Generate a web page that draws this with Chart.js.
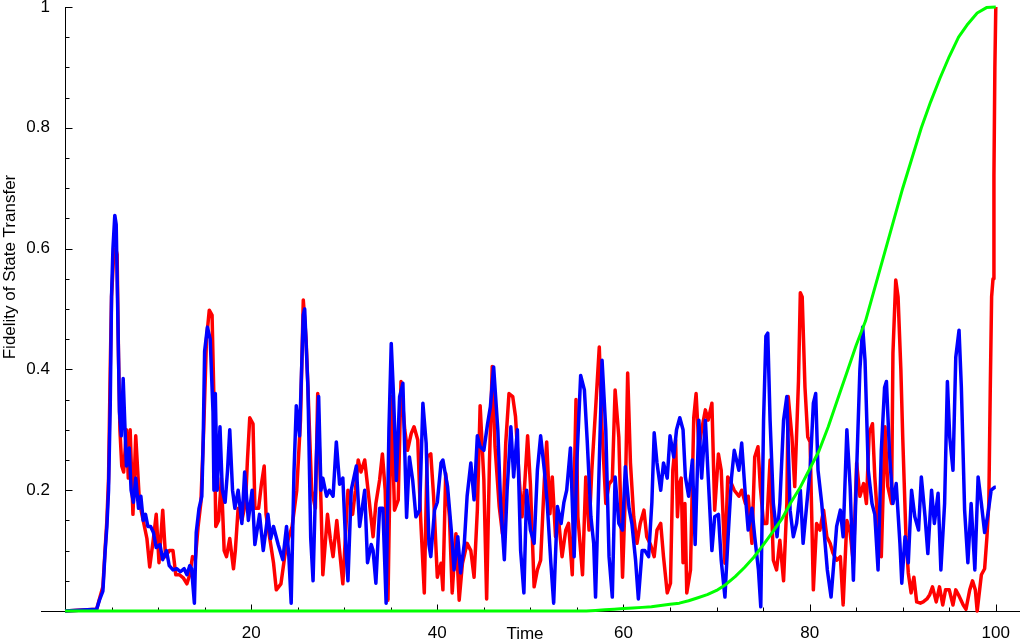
<!DOCTYPE html>
<html><head><meta charset="utf-8">
<script src="https://cdn.jsdelivr.net/npm/chart.js@4.4.1/dist/chart.umd.min.js"></script>
<style>html,body{margin:0;padding:0;background:#fff;} #wrap{width:1020px;height:640px;position:relative;}</style>
</head><body><div id="wrap"><canvas id="c" width="1020" height="640"></canvas></div>
<script>
const xTickLabels = [20, 40, 60, 80, 100];
const yTickLabels = ['0.2', '0.4', '0.6', '0.8', '1'];
const xTitle = 'Time';
const yTitle = 'Fidelity of State Transfer';

const redT = [0,3.4,3.7,4.07,4.3,4.5,4.68,4.86,5.0,5.2,5.45,5.6,5.75,5.9,6.1,6.3,6.6,6.8,7.0,7.3,7.6,8.0,8.4,8.8,9.1,9.5,9.8,10.1,10.5,10.8,11.2,11.6,11.9,12.3,12.7,13.1,13.4,13.7,14.0,14.3,14.6,14.9,15.2,15.5,15.8,16.0,16.2,16.5,16.8,17.1,17.35,17.7,18.1,18.3,18.6,19.0,19.4,19.6,19.85,20.2,20.4,20.8,21.1,21.4,21.6,22.1,22.4,22.7,23.2,23.6,24.0,24.4,24.9,25.3,25.6,25.9,26.1,26.5,26.9,27.15,27.5,27.7,28.2,28.5,28.8,29.2,29.5,29.85,30.4,30.9,31.2,31.5,31.8,32.2,32.7,33.1,33.4,33.8,34.1,34.4,34.7,35.05,35.4,35.8,36.1,36.5,36.8,37.2,37.5,37.9,38.2,38.6,38.9,39.3,39.6,40.0,40.4,40.6,40.9,41.3,41.6,42.0,42.35,42.7,43.2,43.6,43.95,44.3,44.6,45.0,45.3,45.6,45.9,46.2,46.65,47.0,47.35,47.7,48.1,48.4,48.8,49.1,49.35,49.7,50.0,50.4,50.75,51.1,51.5,51.75,52.1,52.35,52.7,53.0,53.4,53.8,54.1,54.5,54.9,55.1,55.6,55.95,56.3,56.6,57.0,57.4,57.7,58.1,58.45,58.8,59.1,59.5,59.9,60.2,60.45,60.75,61.1,61.45,61.8,62.2,62.5,62.9,63.3,63.6,64.0,64.3,64.7,65.05,65.3,65.6,65.8,66.0,66.2,66.4,66.6,66.8,67.2,67.55,67.8,68.1,68.4,68.8,69.1,69.5,69.8,70.2,70.5,70.9,71.2,71.6,71.9,72.4,72.7,73.1,73.4,73.8,74.1,74.45,74.7,75.05,75.4,75.75,76.1,76.45,76.8,77.2,77.55,77.7,78.1,78.4,78.8,79.0,79.2,79.5,79.8,80.05,80.4,80.75,81.1,81.5,81.85,82.2,82.5,82.9,83.3,83.6,84.0,84.35,84.7,85.05,85.4,85.8,86.1,86.4,86.75,87.0,87.35,87.7,88.1,88.4,88.8,88.95,89.25,89.5,89.8,90.0,90.35,90.6,90.9,91.2,91.5,91.9,92.2,92.6,92.9,93.2,93.6,93.95,94.3,94.6,95.0,95.4,95.7,96.05,96.5,96.8,97.2,97.5,97.8,98.0,98.45,98.8,99.05,99.25,99.4,99.55,99.7,99.8,99.9,100];
const redV = [0,0.003,0.02,0.04,0.1,0.15,0.22,0.4,0.52,0.58,0.6,0.59,0.42,0.3,0.24,0.23,0.3,0.22,0.3,0.16,0.29,0.18,0.15,0.12,0.073,0.12,0.16,0.08,0.167,0.09,0.1,0.1,0.06,0.06,0.055,0.045,0.06,0.09,0.085,0.14,0.18,0.3,0.45,0.498,0.49,0.35,0.14,0.15,0.22,0.1,0.09,0.12,0.07,0.1,0.17,0.15,0.18,0.25,0.32,0.31,0.17,0.17,0.21,0.24,0.16,0.11,0.08,0.035,0.045,0.09,0.12,0.14,0.2,0.316,0.515,0.45,0.37,0.2,0.17,0.36,0.18,0.06,0.16,0.12,0.09,0.15,0.1,0.045,0.2,0.16,0.2,0.25,0.23,0.25,0.18,0.123,0.178,0.217,0.26,0.2,0.018,0.355,0.167,0.184,0.38,0.3,0.266,0.294,0.305,0.283,0.156,0.03,0.255,0.26,0.19,0.056,0.079,0.035,0.228,0.156,0.03,0.128,0.018,0.079,0.112,0.1,0.056,0.167,0.34,0.217,0.02,0.245,0.405,0.272,0.173,0.128,0.278,0.36,0.355,0.322,0.217,0.156,0.2,0.29,0.21,0.04,0.068,0.084,0.217,0.28,0.161,0.222,0.123,0.156,0.09,0.134,0.145,0.06,0.35,0.156,0.06,0.222,0.134,0.233,0.333,0.437,0.3,0.178,0.21,0.217,0.366,0.288,0.056,0.195,0.394,0.245,0.156,0.112,0.145,0.167,0.123,0.11,0.09,0.134,0.145,0.09,0.03,0.046,0.233,0.283,0.156,0.21,0.22,0.08,0.178,0.03,0.068,0.32,0.36,0.272,0.3,0.333,0.316,0.344,0.167,0.26,0.233,0.079,0.222,0.211,0.2,0.19,0.2,0.178,0.19,0.112,0.255,0.272,0.206,0.145,0.145,0.25,0.084,0.068,0.117,0.05,0.178,0.355,0.288,0.206,0.38,0.527,0.52,0.37,0.288,0.28,0.035,0.145,0.134,0.167,0.123,0.112,0.096,0.084,0.09,0.01,0.15,0.13,0.079,0.245,0.19,0.211,0.178,0.295,0.31,0.222,0.14,0.09,0.305,0.206,0.178,0.427,0.548,0.52,0.4,0.288,0.123,0.063,0.03,0.056,0.015,0.013,0.015,0.02,0.027,0.04,0.015,0.04,0.01,0.035,0.035,0.01,0.035,0.025,0.01,0.003,0.035,0.05,0.035,0.0,0.06,0.07,0.123,0.178,0.36,0.52,0.55,0.72,0.9,1.0];

const blueT = [0,3.4,3.7,4.07,4.3,4.5,4.68,4.86,5.0,5.15,5.35,5.5,5.65,5.85,6.05,6.25,6.45,6.6,6.9,7.1,7.35,7.6,7.9,8.15,8.4,8.65,8.9,9.2,9.5,9.8,10.2,10.5,10.9,11.2,11.6,12.0,12.4,12.8,13.1,13.4,13.6,13.9,14.1,14.4,14.7,14.85,15.0,15.3,15.6,15.9,16.0,16.15,16.35,16.65,16.9,17.2,17.45,17.7,18.0,18.25,18.6,19.0,19.3,19.7,20.1,20.4,20.9,21.3,21.8,22.1,22.4,22.9,23.4,23.8,24.05,24.3,24.6,24.85,25.2,25.6,25.75,26.1,26.4,26.65,27.0,27.25,27.5,27.7,28.1,28.4,28.8,29.15,29.5,29.85,30.2,30.4,30.75,31.3,31.65,32.2,32.5,32.9,33.1,33.4,33.8,34.15,34.5,34.8,35.05,35.3,35.6,35.95,36.3,36.7,37.0,37.35,37.7,38.1,38.45,38.8,39.1,39.3,39.7,40.0,40.4,40.6,41.1,41.5,41.8,42.2,42.5,42.9,43.2,43.6,43.95,44.3,44.6,45.0,45.4,45.7,46.05,46.5,46.8,47.2,47.5,47.9,48.2,48.6,48.95,49.3,49.6,50.0,50.4,50.75,51.1,51.5,51.8,52.2,52.5,52.9,53.3,53.6,53.9,54.3,54.7,55.0,55.4,55.8,56.1,56.5,56.8,57.0,57.4,57.7,58.1,58.45,58.8,59.1,59.5,59.9,60.2,60.6,60.9,61.3,61.6,62.0,62.3,62.7,63.05,63.3,63.6,64.0,64.3,64.7,65.0,65.4,65.7,66.05,66.4,66.65,67.0,67.4,67.7,68.1,68.4,68.8,69.1,69.5,69.8,70.2,70.5,70.9,71.2,71.6,71.9,72.4,72.7,73.1,73.4,73.8,74.1,74.5,74.75,75.05,75.3,75.5,75.75,76.1,76.5,76.8,77.2,77.55,77.9,78.25,78.6,79.0,79.3,79.7,80.05,80.4,80.65,80.9,81.3,81.6,81.9,82.3,82.6,82.9,83.3,83.6,84.0,84.35,84.7,85.05,85.4,85.7,85.95,86.3,86.7,87.0,87.35,87.7,88.05,88.25,88.6,88.95,89.3,89.7,89.9,90.25,90.6,90.95,91.3,91.7,92.0,92.4,92.7,93.1,93.4,93.8,94.1,94.5,94.8,95.05,95.4,95.7,96.05,96.3,96.65,97.0,97.35,97.75,98.1,98.45,98.8,99.15,99.5,99.9,100];
const blueV = [0,0.003,0.018,0.033,0.096,0.14,0.2,0.34,0.52,0.6,0.655,0.64,0.51,0.33,0.29,0.385,0.3,0.24,0.27,0.2,0.18,0.22,0.17,0.19,0.15,0.16,0.14,0.14,0.13,0.105,0.11,0.085,0.1,0.075,0.068,0.07,0.065,0.07,0.06,0.075,0.07,0.013,0.13,0.17,0.19,0.285,0.43,0.47,0.45,0.33,0.2,0.36,0.2,0.305,0.2,0.18,0.23,0.3,0.2,0.17,0.2,0.145,0.23,0.15,0.2,0.11,0.16,0.1,0.16,0.12,0.14,0.11,0.085,0.14,0.09,0.013,0.23,0.34,0.29,0.49,0.5,0.37,0.12,0.05,0.25,0.355,0.2,0.22,0.19,0.2,0.19,0.28,0.21,0.22,0.096,0.05,0.2,0.24,0.14,0.2,0.08,0.11,0.1,0.046,0.17,0.17,0.013,0.3,0.443,0.355,0.216,0.355,0.377,0.155,0.255,0.217,0.156,0.167,0.344,0.278,0.11,0.09,0.167,0.18,0.245,0.25,0.206,0.134,0.068,0.123,0.063,0.112,0.19,0.245,0.184,0.29,0.272,0.266,0.31,0.338,0.404,0.3,0.178,0.085,0.2,0.305,0.222,0.3,0.1,0.03,0.2,0.134,0.112,0.233,0.29,0.233,0.18,0.079,0.013,0.173,0.145,0.18,0.2,0.27,0.09,0.25,0.39,0.366,0.283,0.156,0.112,0.023,0.245,0.415,0.3,0.09,0.023,0.222,0.145,0.134,0.239,0.17,0.145,0.084,0.02,0.1,0.1,0.09,0.18,0.295,0.245,0.2,0.245,0.22,0.29,0.255,0.3,0.32,0.3,0.222,0.19,0.25,0.11,0.316,0.22,0.316,0.222,0.1,0.156,0.16,0.084,0.023,0.112,0.22,0.266,0.233,0.278,0.19,0.134,0.17,0.123,0.068,0.007,0.316,0.455,0.46,0.316,0.178,0.123,0.178,0.316,0.355,0.167,0.123,0.145,0.2,0.112,0.178,0.233,0.344,0.36,0.233,0.178,0.123,0.068,0.023,0.08,0.14,0.167,0.123,0.3,0.206,0.051,0.233,0.4,0.47,0.415,0.233,0.178,0.16,0.068,0.266,0.37,0.38,0.255,0.178,0.211,0.112,0.046,0.123,0.08,0.2,0.156,0.134,0.222,0.156,0.095,0.2,0.145,0.195,0.068,0.178,0.38,0.288,0.233,0.42,0.465,0.37,0.167,0.08,0.178,0.068,0.222,0.178,0.13,0.16,0.2,0.205,0.205];

const greenT = [0,56,57,58,59,60,61,62,63,64,65,66,67,68,69,70,71,72,73,74,75,76,77,78,79,80,81,82,83,84,85,86,87,88,89,90,91,92,93,94,95,96,97,98,99,100];
const greenV = [0,0,0.001,0.002,0.003,0.004,0.005,0.006,0.007,0.009,0.011,0.013,0.017,0.022,0.027,0.034,0.044,0.057,0.072,0.089,0.109,0.13,0.152,0.18,0.205,0.235,0.265,0.305,0.35,0.395,0.44,0.48,0.535,0.59,0.645,0.7,0.75,0.8,0.843,0.882,0.918,0.95,0.972,0.99,0.999,1.0];

const pts = (t, v) => t.map((x, i) => ({x: x, y: v[i]}));
const FONT = "'Liberation Sans', Arial, sans-serif";
const X_LEFT_EXT = -2.6;

const axesPlugin = {
  id: 'mmaAxes',
  beforeDatasetsDraw(chart) {
    const ctx = chart.ctx, xs = chart.scales.x, ys = chart.scales.y, ca = chart.chartArea;
    const x0 = Math.round(xs.getPixelForValue(0)) + 0.5;
    const y0 = Math.round(ys.getPixelForValue(0)) + 0.5;
    ctx.save();
    ctx.strokeStyle = '#000'; ctx.lineWidth = 1;
    ctx.beginPath();
    ctx.moveTo(Math.round(xs.getPixelForValue(X_LEFT_EXT)), y0); ctx.lineTo(ca.right, y0);
    ctx.moveTo(x0, Math.round(ys.getPixelForValue(1))); ctx.lineTo(x0, y0);
    xs.ticks.forEach(t => {
      if (t.value <= 0 || t.value > 100) return;
      const px = Math.round(xs.getPixelForValue(t.value)) + 0.5;
      const len = (t.value % 20 === 0) ? 7 : 4;
      ctx.moveTo(px, y0); ctx.lineTo(px, y0 - len);
    });
    ys.ticks.forEach(t => {
      const k = Math.round(t.value * 20);
      if (k <= 0) return;
      const py = Math.round(ys.getPixelForValue(t.value)) + 0.5;
      const len = (k % 4 === 0) ? 7 : 4;
      ctx.moveTo(x0, py); ctx.lineTo(x0 + len, py);
    });
    ctx.stroke();
    ctx.restore();
  },
  afterDraw(chart) {
    const ctx = chart.ctx;
    ctx.save();
    ctx.fillStyle = '#000';
    ctx.font = '17px ' + FONT;
    ctx.textAlign = 'center';
    ctx.textBaseline = 'alphabetic';
    ctx.fillText(xTitle, 525, 639);
    ctx.translate(15, 267);
    ctx.rotate(-Math.PI / 2);
    ctx.fillText(yTitle, 0, 0);
    ctx.restore();
  }
};

new Chart(document.getElementById('c'), {
  type: 'line',
  data: {
    datasets: [
      {label: 'green', data: pts(greenT, greenV), borderColor: '#00ff00', borderWidth: 3, order: 0},
      {label: 'blue', data: pts(blueT, blueV), borderColor: '#0000ff', borderWidth: 3.5, order: 1},
      {label: 'red', data: pts(redT, redV), borderColor: '#ff0000', borderWidth: 3.5, order: 2}
    ]
  },
  options: {
    responsive: false,
    animation: false,
    events: [],
    datasets: {line: {pointRadius: 0, tension: 0, fill: false, clip: false, borderJoinStyle: 'round', borderCapStyle: 'butt'}},
    layout: {padding: {top: 7, left: 0, right: 0, bottom: 0}},
    plugins: {legend: {display: false}, tooltip: {enabled: false}, title: {display: false}},
    scales: {
      x: {
        type: 'linear', position: 'bottom', min: 0, max: 102.6,
        grid: {display: false, drawTicks: false, tickLength: 0},
        border: {display: false},
        ticks: {
          stepSize: 5, includeBounds: false, autoSkip: false, maxRotation: 0, padding: 12,
          color: '#000', font: {family: FONT, size: 17},
          callback: v => xTickLabels.includes(v) ? String(v) : ''
        },
        afterFit: s => { s.height = 29; s.paddingLeft = 0; s.paddingRight = 0; }
      },
      y: {
        type: 'linear', position: 'left', min: 0, max: 1,
        grid: {display: false, drawTicks: false, tickLength: 0},
        border: {display: false},
        ticks: {
          stepSize: 0.05, autoSkip: false, padding: 15,
          color: '#000', font: {family: FONT, size: 17},
          callback: v => { const k = Math.round(v * 20); return (k > 0 && k % 4 === 0) ? yTickLabels[k / 4 - 1] : ''; }
        },
        afterFit: s => { s.width = 65; s.paddingTop = 0; s.paddingBottom = 0; }
      }
    }
  },
  plugins: [axesPlugin]
});
</script>
</body></html>
